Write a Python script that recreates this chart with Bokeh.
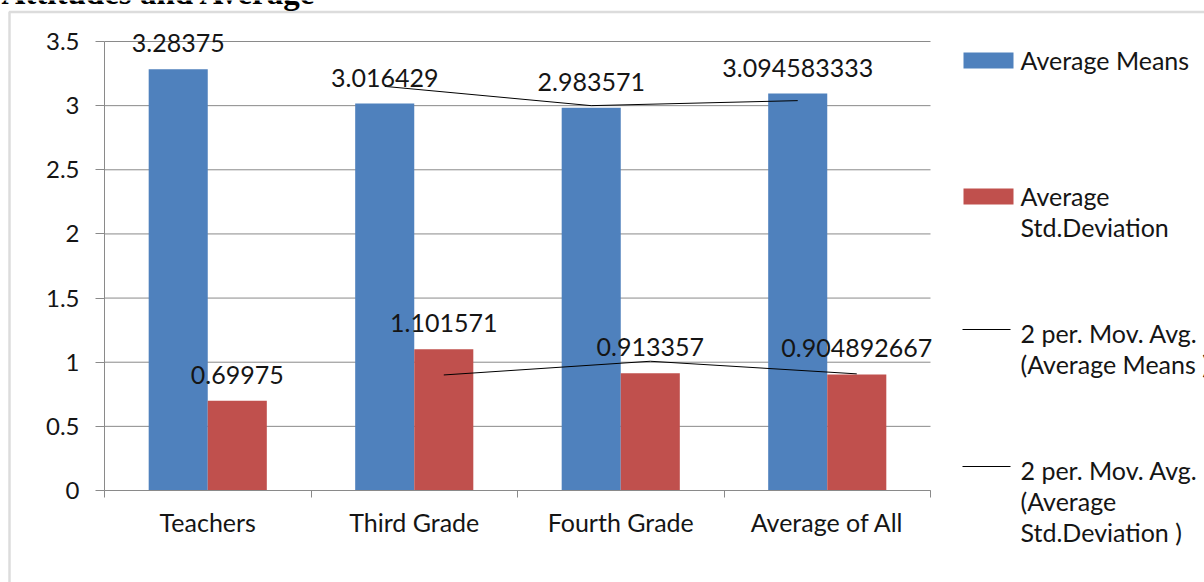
import pandas as pd
from bokeh.plotting import figure
from bokeh.models import (ColumnDataSource, Range1d, Label, LabelSet, BoxAnnotation,
                          LinearAxis, FixedTicker)
from bokeh.transform import dodge
from bokeh.core.properties import value
from bokeh.embed import file_html
from bokeh.resources import INLINE

# ---- data ----
categories = ["Teachers", "Third Grade", "Fourth Grade", "Average of All"]
average_means = [3.28375, 3.016429, 2.983571, 3.094583333]
average_std = [0.69975, 1.101571, 0.913357, 0.904892667]
mean_labels = ["3.28375", "3.016429", "2.983571", "3.094583333"]
std_labels = ["0.69975", "1.101571", "0.913357", "0.904892667"]
y_ticks = [0, 0.5, 1, 1.5, 2, 2.5, 3, 3.5]
y_tick_labels = ["0", "0.5", "1", "1.5", "2", "2.5", "3", "3.5"]
title_text = "Attitudes and Average"
legend_texts = [
    ["Average Means"],
    ["Average", "Std.Deviation"],
    ["2 per. Mov. Avg.", "(Average Means )"],
    ["2 per. Mov. Avg.", "(Average", "Std.Deviation )"],
]

# category slots: each category occupies one unit, centred at i + 0.5
n = len(categories)
centers = [i + 0.5 for i in range(n)]
bounds = list(range(n + 1))
Y_MAX = 3.5

# two-period moving averages (as the trendlines in the chart)
ma_means = pd.Series(average_means).rolling(2).mean().tolist()[1:]
ma_std = pd.Series(average_std).rolling(2).mean().tolist()[1:]

# page geometry: the plotting area sits inside a full-page frame so that the
# legend, heading and outer border can be drawn as annotations on the same canvas
W, H = 1204, 582
AREA_L, AREA_T, AREA_R, AREA_B = 104, 41, 930, 490
px_per_x = (AREA_R - AREA_L) / n
px_per_y = (AREA_B - AREA_T) / Y_MAX

BLUE = "#4F81BD"
RED = "#C0504D"
GRID = "#8a8a8a"
FONT = "Lato"
TXT = "#151515"
OFF = 0.143
BAR_W = 0.286


def sx(px):
    return px


def sy(py):
    return H - py


src = ColumnDataSource(dict(x=centers, mean=average_means, std=average_std,
                            mlab=mean_labels, slab=std_labels))
ma_src = ColumnDataSource(dict(x=centers[1:], mm=ma_means, ms=ma_std))

p = figure(x_range=Range1d(-AREA_L / px_per_x, n + (W - AREA_R) / px_per_x),
           y_range=Range1d(-(H - AREA_B) / px_per_y, Y_MAX + AREA_T / px_per_y),
           width=W, height=H, output_backend="svg", toolbar_location=None,
           x_axis_location=None, y_axis_location=None, min_border=0,
           min_border_left=0, min_border_right=0, min_border_top=0, min_border_bottom=0)
p.outline_line_color = None
p.background_fill_color = "white"
p.border_fill_color = "white"

# grid lines across the category area only
p.xgrid.grid_line_color = None
p.ygrid.grid_line_color = None
p.segment(x0=0, x1=n, y0=y_ticks, y1=y_ticks, line_color=GRID, line_width=1)

# bars
p.vbar(x=dodge("x", -OFF), top="mean", width=BAR_W, source=src,
       fill_color=BLUE, line_color=None)
p.vbar(x=dodge("x", OFF), top="std", width=BAR_W, source=src,
       fill_color=RED, line_color=None)

# moving-average trendlines
p.line(x=dodge("x", -OFF), y="mm", source=ma_src, line_color="black", line_width=1)
p.line(x=dodge("x", OFF), y="ms", source=ma_src, line_color="black", line_width=1)

# value labels
lab_kw = dict(text_font=value(FONT), text_font_size="25px", text_color=TXT,
              text_align="center", text_baseline="middle", y_offset=26, source=src)
p.add_layout(LabelSet(x=dodge("x", -OFF), y="mean", text="mlab", **lab_kw))
p.add_layout(LabelSet(x=dodge("x", OFF), y="std", text="slab", **lab_kw))

# y axis pinned at the left edge of the category area
ya = LinearAxis(fixed_location=0, ticker=FixedTicker(ticks=y_ticks), bounds=(0, Y_MAX))
ya.major_label_overrides = {t: s for t, s in zip(y_ticks, y_tick_labels)}
ya.minor_tick_line_color = None
ya.major_tick_in = 0
ya.major_tick_out = 9
ya.major_tick_line_color = GRID
ya.axis_line_color = GRID
ya.major_label_standoff = 16
ya.major_label_text_font = FONT
ya.major_label_text_font_size = "24px"
ya.major_label_text_color = TXT
p.add_layout(ya, "left")

# x axis: boundary tick marks, then category names
bx = LinearAxis(fixed_location=0, ticker=FixedTicker(ticks=bounds), bounds=(0, n))
bx.major_label_overrides = {b: "" for b in bounds}
bx.major_label_text_font_size = "1px"
bx.major_label_standoff = 0
bx.major_tick_in = 0
bx.major_tick_out = 7
bx.minor_tick_line_color = None
bx.major_tick_line_color = GRID
bx.axis_line_color = GRID
p.add_layout(bx, "below")

cx = LinearAxis(fixed_location=0, ticker=FixedTicker(ticks=centers))
cx.major_label_overrides = {c: name for c, name in zip(centers, categories)}
cx.axis_line_color = None
cx.major_tick_line_color = None
cx.minor_tick_line_color = None
cx.major_label_standoff = 10
cx.major_label_text_font = FONT
cx.major_label_text_font_size = "25px"
cx.major_label_text_color = TXT
p.add_layout(cx, "below")

# outer frame (left and top edges visible)
p.add_layout(BoxAnnotation(left=sx(9), right=sx(W + 50), bottom=sy(H + 50), top=sy(11.5),
                           left_units="screen", right_units="screen",
                           bottom_units="screen", top_units="screen",
                           fill_alpha=0, line_color=GRID, line_width=2.5))

# heading, mostly above the page edge
p.add_layout(Label(x=sx(1), y=sy(-8), x_units="screen", y_units="screen", text=title_text,
                   text_font="Liberation Serif", text_font_style="bold",
                   text_font_size="33px", text_color="black", text_baseline="alphabetic"))

# legend
LX = 1020
LINE_H = 31
swatches = [(BLUE, 60, "box"), (RED, 196, "box"), ("black", 329, "line"), ("black", 466, "line")]
text_tops = [59, 195, 332, 469]
for (col, yc, kind), ty, lines in zip(swatches, text_tops, legend_texts):
    if kind == "box":
        left, right, half = 963, 1013, 8
    else:
        left, right, half = 962, 1010, 0.5
    p.add_layout(BoxAnnotation(left=sx(left), right=sx(right), bottom=sy(yc + half), top=sy(yc - half),
                               left_units="screen", right_units="screen",
                               bottom_units="screen", top_units="screen",
                               fill_color=col, fill_alpha=1, line_color=None))
    for i, t in enumerate(lines):
        p.add_layout(Label(x=sx(LX), y=sy(ty + i * LINE_H), x_units="screen", y_units="screen",
                           text=t, text_font=FONT, text_font_size="25px", text_color=TXT,
                           text_baseline="middle"))

open("out.html", "w").write(file_html(p, INLINE))
